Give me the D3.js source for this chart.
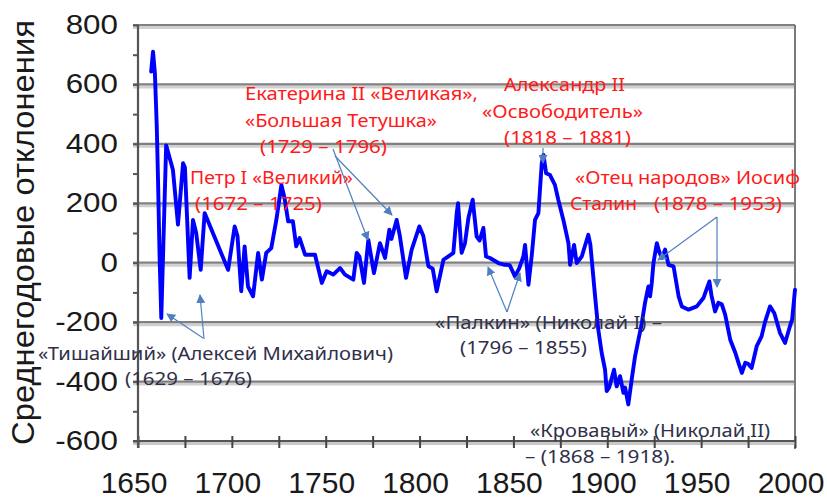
<!DOCTYPE html>
<html>
<head>
<meta charset="utf-8">
<script src="https://cdn.jsdelivr.net/npm/d3@7"></script>
<style>
  body { margin: 0; background: #fff; }
  svg { display: block; }
</style>
</head>
<body>
<svg id="chart" width="827" height="498"></svg>
<script>
// ---------- DATA ----------
const years = [1657,1658,1659,1660,1660.7,1661.5,1662.4,1665,1668.6,1671.3,1674,1675,1677.5,1679.3,1681,1683.4,1685.5,1698,1701.5,1703,1705,1706.8,1708.6,1711.3,1714,1716,1718.3,1721,1723.7,1726.4,1728,1730,1732.5,1734.3,1736.1,1739,1744.3,1747.9,1750.5,1754,1757.6,1760.3,1764.7,1766.5,1768,1770.4,1772.7,1775.7,1778.9,1781.6,1783.9,1785,1787.8,1789.5,1792.8,1795.8,1799.9,1802,1804.7,1807,1809.1,1812.7,1815,1818,1819.8,1820.5,1822.4,1824.2,1826,1828.3,1830.4,1832,1834,1835.4,1837.5,1842,1845.5,1848,1850.8,1853,1855.3,1856.2,1858,1859.8,1861.5,1863.3,1865.1,1866,1867.4,1869.5,1872.1,1873.9,1876.6,1879.3,1880.2,1882.3,1883.7,1886.4,1889.9,1891,1893.5,1895.2,1897,1898.8,1899.7,1901,1903.6,1905,1906.8,1908.6,1909.5,1911.2,1913,1914.8,1916.6,1918.4,1920.1,1921.9,1922.8,1923.7,1924.6,1926.4,1927.5,1929,1930.8,1932.6,1935.3,1938,1939.7,1943.3,1947.7,1951.2,1954.4,1955.5,1957.4,1959.2,1961,1962.8,1965.5,1968.2,1969.9,1971.7,1973.5,1975,1976.9,1979.6,1982.2,1984,1986.7,1989,1992,1994.7,1997.3,1998.5,2000];
const values = [643,710,638,458,269,21,-186,395,313,128,335,320,-51,144,100,-24,167,-24,122,90,-96,55,-80,-113,33,-57,33,49,144,262,220,139,140,55,83,27,27,-68,-29,-40,-18,-40,-57,33,20,-68,77,-35,66,16,111,80,144,90,-51,44,122,90,-12,-20,-96,10,20,33,167,200,33,66,150,212,88,75,117,21,16,-1,-7,-8,-46,-20,21,60,-74,27,144,167,335,363,301,295,262,212,144,66,-7,60,-1,21,94,60,-113,-225,-303,-360,-432,-420,-360,-416,-382,-438,-420,-477,-393,-315,-259,-203,-135,-80,-113,-68,-1,66,40,16,44,-7,-12,-113,-147,-158,-147,-119,-63,-110,-164,-135,-140,-175,-259,-303,-337,-371,-337,-340,-354,-281,-248,-200,-147,-170,-236,-270,-214,-190,-91];

const xTicksMajor = [1650,1700,1750,1800,1850,1900,1950,2000];
const xTicksMinor = [1650,1675,1700,1725,1750,1775,1800,1825,1850,1875,1900,1925,1950,1975,2000];
const yTicksMajor = [-600,-400,-200,0,200,400,600,800];
const yTicksMinor = [-500,-300,-100,100,300,500,700];
const yTitle = "Среднегодовые отклонения";

const redNotes = [
  "Екатерина II «Великая»,",
  "«Большая Тетушка»",
  "(1729 – 1796)",
  "Петр I «Великий»",
  "(1672 – 1725)",
  "Александр II",
  "«Освободитель»",
  "(1818 – 1881)",
  "«Отец народов» Иосиф",
  "Сталин",
  "(1878 – 1953)"
];
const darkNotes = [
  "«Тишайший» (Алексей Михайлович)",
  "(1629 – 1676)",
  "«Палкин» (Николай I) –",
  "(1796 – 1855)",
  "«Кровавый» (Николай II)",
  "– (1868 – 1918)."
];

// ---------- LAYOUT ----------
const svg = d3.select("#chart");
const x = d3.scaleLinear().domain([1650, 2000]).range([138, 795]);
const y = d3.scaleLinear().domain([-600, 800]).range([441, 25]);

// gridlines (with soft shadow)
const grid = svg.append("g");
yTicksMajor.filter(v => v > -600).forEach(v => {
  grid.append("line").attr("x1", 133).attr("x2", 795)
    .attr("y1", y(v) + 2.5).attr("y2", y(v) + 2.5)
    .attr("stroke", "#d0d0d0").attr("stroke-width", 3);
  grid.append("line").attr("x1", 133).attr("x2", 795)
    .attr("y1", y(v)).attr("y2", y(v))
    .attr("stroke", "#808080").attr("stroke-width", 2.2);
});
grid.append("line").attr("x1", 795).attr("x2", 795).attr("y1", y(800)).attr("y2", 449)
  .attr("stroke", "#7a7a7a").attr("stroke-width", 2);

// bottom axis
const xAxis = svg.append("g").attr("transform", `translate(0,${y(-600)})`);
xAxis.append("line").attr("x1", 133).attr("x2", 795).attr("y1", 0).attr("y2", 0)
  .attr("stroke", "#c8c8c8").attr("stroke-width", 3).attr("transform", "translate(0,2.5)");
xAxis.call(d3.axisBottom(x).tickValues(xTicksMinor).tickSize(7).tickFormat(""))
  .call(g => g.select(".domain").attr("stroke", "#555").attr("stroke-width", 2.2))
  .call(g => g.selectAll(".tick line").attr("stroke", "#444").attr("stroke-width", 2).attr("y1", -5));
xAxis.select(".domain").attr("d", `M133,0H795`);

svg.append("g").selectAll("text").data(xTicksMajor).join("text")
  .attr("x", d => x(d) - 4).attr("y", 493)
  .attr("text-anchor", "middle")
  .attr("font-family", "Liberation Sans, Arial, sans-serif")
  .attr("font-size", 30).attr("fill", "#1a1a1a")
  .text(d => d);

// left axis
const yAxis = svg.append("g").attr("transform", `translate(138,0)`);
yAxis.call(d3.axisLeft(y).tickValues(yTicksMajor.concat(yTicksMinor)).tickSize(5).tickFormat(""))
  .call(g => g.select(".domain").attr("stroke", "#555").attr("stroke-width", 2.2).attr("d", `M0,${y(800)}V448`))
  .call(g => g.selectAll(".tick line").attr("stroke", "#555").attr("stroke-width", 2));

svg.append("g").selectAll("text").data(yTicksMajor).join("text")
  .attr("transform", d => `translate(118,${y(d) + 9}) scale(1.12,1)`)
  .attr("text-anchor", "end")
  .attr("font-family", "Liberation Sans, Arial, sans-serif")
  .attr("font-size", 28).attr("fill", "#1a1a1a")
  .text(d => d);

// axis title
svg.append("text")
  .attr("transform", `translate(34,${(20 + 445) / 2}) rotate(-90)`)
  .attr("text-anchor", "middle")
  .attr("font-family", "Liberation Sans, Arial, sans-serif")
  .attr("font-size", 31).attr("fill", "#1a1a1a")
  .attr("textLength", 425).attr("lengthAdjust", "spacingAndGlyphs")
  .text(yTitle);

// data line
const pts = years.map((yr, i) => [yr, values[i]]);
svg.append("path").datum(pts)
  .attr("fill", "none").attr("stroke", "#0000ff").attr("stroke-width", 3.9)
  .attr("stroke-linejoin", "round").attr("stroke-linecap", "round")
  .attr("d", d3.line().x(d => x(d[0])).y(d => y(d[1])));

// arrows
const arrowColor = "#4f7fbf";
svg.append("defs").append("marker")
  .attr("id", "arr").attr("viewBox", "0 0 10 10").attr("refX", 9).attr("refY", 5)
  .attr("markerWidth", 9).attr("markerHeight", 9).attr("orient", "auto")
  .attr("markerUnits", "userSpaceOnUse")
  .append("path").attr("d", "M0,0L10,5L0,10z").attr("fill", arrowColor);

const arrows = [
  [203, 338, 167, 314],
  [204, 339, 200, 295],
  [333, 149, 368, 240],
  [335, 156, 392, 215],
  [543, 148, 543, 163],
  [507, 312, 488, 267],
  [507, 312, 520, 273],
  [717, 217, 658, 260],
  [717, 217, 717, 287]
];
svg.append("g").selectAll("line").data(arrows).join("line")
  .attr("x1", d => d[0]).attr("y1", d => d[1]).attr("x2", d => d[2]).attr("y2", d => d[3])
  .attr("stroke", arrowColor).attr("stroke-width", 1.2)
  .attr("marker-end", "url(#arr)");

// annotations
const redPos = [
  [245, 100, 233], [245, 127, 192], [260, 153, 127],
  [190, 184, 163], [195, 210, 127],
  [504, 91, 121], [482, 118, 161], [504, 144, 127],
  [575, 184, 225], [570, 210, 67], [654, 210, 128]
];
const darkPos = [
  [38, 360, 355], [125, 385, 127],
  [435, 329, 227], [460, 354, 127],
  [530, 437, 240], [525, 463, 150]
];
function notes(arr, pos, color) {
  svg.append("g").selectAll("text").data(arr).join("text")
    .attr("x", (d, i) => pos[i][0]).attr("y", (d, i) => pos[i][1])
    .attr("textLength", (d, i) => pos[i][2]).attr("lengthAdjust", "spacingAndGlyphs")
    .attr("font-family", "Noto Sans, Open Sans, sans-serif")
    .attr("font-size", 17.5).attr("fill", color)
    .text(d => d);
}
notes(redNotes, redPos, "#ff1a1a");
notes(darkNotes, darkPos, "#30304a");
</script>
</body>
</html>
